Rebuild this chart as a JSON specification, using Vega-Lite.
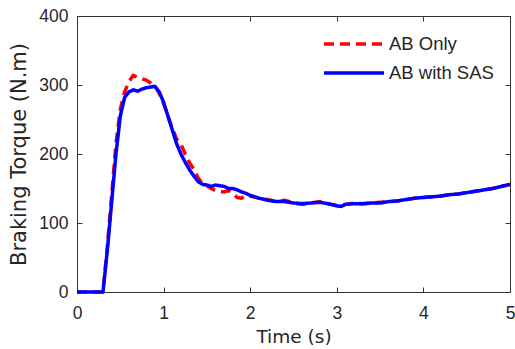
{
  "$schema": "https://vega.github.io/schema/vega-lite/v6.json",
  "width": 433,
  "height": 276,
  "autosize": {"type": "none"},
  "padding": {"left": 77, "top": 16, "right": 5, "bottom": 57},
  "background": "white",
  "config": {
    "view": {"stroke": "#333333", "strokeWidth": 1},
    "font": "Liberation Sans",
    "axis": {
      "grid": false,
      "domain": false,
      "tickColor": "#333333",
      "tickSize": -5,
      "labelFont": "Liberation Sans",
      "labelFontSize": 17.5,
      "labelColor": "#262626",
      "titleFont": "DejaVu Sans",
      "titleFontWeight": "normal",
      "titleColor": "#262626"
    }
  },
  "data": {
    "values": [
      {"t": 0, "v": 0, "s": "AB Only"},
      {"t": 0.3, "v": 0, "s": "AB Only"},
      {"t": 0.35, "v": 65, "s": "AB Only"},
      {"t": 0.4, "v": 140, "s": "AB Only"},
      {"t": 0.45, "v": 215, "s": "AB Only"},
      {"t": 0.5, "v": 265, "s": "AB Only"},
      {"t": 0.55, "v": 290, "s": "AB Only"},
      {"t": 0.6, "v": 305, "s": "AB Only"},
      {"t": 0.65, "v": 314, "s": "AB Only"},
      {"t": 0.7, "v": 311, "s": "AB Only"},
      {"t": 0.75, "v": 309, "s": "AB Only"},
      {"t": 0.8, "v": 307, "s": "AB Only"},
      {"t": 0.85, "v": 303, "s": "AB Only"},
      {"t": 0.9, "v": 298, "s": "AB Only"},
      {"t": 0.95, "v": 288, "s": "AB Only"},
      {"t": 1.0, "v": 273, "s": "AB Only"},
      {"t": 1.05, "v": 255, "s": "AB Only"},
      {"t": 1.1, "v": 237, "s": "AB Only"},
      {"t": 1.15, "v": 222, "s": "AB Only"},
      {"t": 1.2, "v": 214, "s": "AB Only"},
      {"t": 1.25, "v": 200, "s": "AB Only"},
      {"t": 1.3, "v": 187, "s": "AB Only"},
      {"t": 1.35, "v": 178, "s": "AB Only"},
      {"t": 1.4, "v": 165, "s": "AB Only"},
      {"t": 1.45, "v": 157, "s": "AB Only"},
      {"t": 1.5, "v": 154, "s": "AB Only"},
      {"t": 1.55, "v": 150, "s": "AB Only"},
      {"t": 1.6, "v": 147, "s": "AB Only"},
      {"t": 1.65, "v": 146, "s": "AB Only"},
      {"t": 1.7, "v": 145, "s": "AB Only"},
      {"t": 1.75, "v": 147, "s": "AB Only"},
      {"t": 1.8, "v": 143, "s": "AB Only"},
      {"t": 1.85, "v": 137, "s": "AB Only"},
      {"t": 1.9, "v": 136, "s": "AB Only"},
      {"t": 1.95, "v": 140, "s": "AB Only"},
      {"t": 2.0, "v": 139, "s": "AB Only"},
      {"t": 2.1, "v": 136, "s": "AB Only"},
      {"t": 2.2, "v": 134, "s": "AB Only"},
      {"t": 2.3, "v": 131, "s": "AB Only"},
      {"t": 2.4, "v": 133, "s": "AB Only"},
      {"t": 2.5, "v": 129, "s": "AB Only"},
      {"t": 2.6, "v": 127, "s": "AB Only"},
      {"t": 2.7, "v": 129, "s": "AB Only"},
      {"t": 2.8, "v": 131, "s": "AB Only"},
      {"t": 2.9, "v": 128, "s": "AB Only"},
      {"t": 3.0, "v": 125, "s": "AB Only"},
      {"t": 3.1, "v": 127, "s": "AB Only"},
      {"t": 3.2, "v": 129, "s": "AB Only"},
      {"t": 3.3, "v": 128, "s": "AB Only"},
      {"t": 3.4, "v": 129, "s": "AB Only"},
      {"t": 3.5, "v": 130, "s": "AB Only"},
      {"t": 3.6, "v": 131, "s": "AB Only"},
      {"t": 3.7, "v": 132, "s": "AB Only"},
      {"t": 3.8, "v": 134, "s": "AB Only"},
      {"t": 3.9, "v": 136, "s": "AB Only"},
      {"t": 4.0, "v": 137, "s": "AB Only"},
      {"t": 4.1, "v": 138, "s": "AB Only"},
      {"t": 4.2, "v": 139, "s": "AB Only"},
      {"t": 4.3, "v": 141, "s": "AB Only"},
      {"t": 4.4, "v": 142, "s": "AB Only"},
      {"t": 4.5, "v": 144, "s": "AB Only"},
      {"t": 4.6, "v": 146, "s": "AB Only"},
      {"t": 4.7, "v": 148, "s": "AB Only"},
      {"t": 4.8, "v": 150, "s": "AB Only"},
      {"t": 4.9, "v": 153, "s": "AB Only"},
      {"t": 5.0, "v": 156, "s": "AB Only"},
      {"t": 0, "v": 0, "s": "AB with SAS"},
      {"t": 0.3, "v": 0, "s": "AB with SAS"},
      {"t": 0.35, "v": 60, "s": "AB with SAS"},
      {"t": 0.4, "v": 130, "s": "AB with SAS"},
      {"t": 0.45, "v": 200, "s": "AB with SAS"},
      {"t": 0.5, "v": 255, "s": "AB with SAS"},
      {"t": 0.55, "v": 282, "s": "AB with SAS"},
      {"t": 0.6, "v": 290, "s": "AB with SAS"},
      {"t": 0.65, "v": 293, "s": "AB with SAS"},
      {"t": 0.7, "v": 291, "s": "AB with SAS"},
      {"t": 0.75, "v": 294, "s": "AB with SAS"},
      {"t": 0.8, "v": 296, "s": "AB with SAS"},
      {"t": 0.85, "v": 297, "s": "AB with SAS"},
      {"t": 0.9, "v": 298, "s": "AB with SAS"},
      {"t": 0.95, "v": 290, "s": "AB with SAS"},
      {"t": 1.0, "v": 275, "s": "AB with SAS"},
      {"t": 1.05, "v": 255, "s": "AB with SAS"},
      {"t": 1.1, "v": 235, "s": "AB with SAS"},
      {"t": 1.15, "v": 215, "s": "AB with SAS"},
      {"t": 1.2, "v": 200, "s": "AB with SAS"},
      {"t": 1.25, "v": 188, "s": "AB with SAS"},
      {"t": 1.3, "v": 177, "s": "AB with SAS"},
      {"t": 1.35, "v": 168, "s": "AB with SAS"},
      {"t": 1.4, "v": 160, "s": "AB with SAS"},
      {"t": 1.45, "v": 156, "s": "AB with SAS"},
      {"t": 1.5, "v": 155, "s": "AB with SAS"},
      {"t": 1.55, "v": 153, "s": "AB with SAS"},
      {"t": 1.6, "v": 155, "s": "AB with SAS"},
      {"t": 1.65, "v": 154, "s": "AB with SAS"},
      {"t": 1.7, "v": 153, "s": "AB with SAS"},
      {"t": 1.75, "v": 150, "s": "AB with SAS"},
      {"t": 1.8, "v": 150, "s": "AB with SAS"},
      {"t": 1.85, "v": 148, "s": "AB with SAS"},
      {"t": 1.9, "v": 145, "s": "AB with SAS"},
      {"t": 1.95, "v": 143, "s": "AB with SAS"},
      {"t": 2.0, "v": 140, "s": "AB with SAS"},
      {"t": 2.1, "v": 136, "s": "AB with SAS"},
      {"t": 2.2, "v": 133, "s": "AB with SAS"},
      {"t": 2.3, "v": 131, "s": "AB with SAS"},
      {"t": 2.4, "v": 131, "s": "AB with SAS"},
      {"t": 2.5, "v": 129, "s": "AB with SAS"},
      {"t": 2.6, "v": 128, "s": "AB with SAS"},
      {"t": 2.7, "v": 129, "s": "AB with SAS"},
      {"t": 2.8, "v": 130, "s": "AB with SAS"},
      {"t": 2.9, "v": 128, "s": "AB with SAS"},
      {"t": 3.0, "v": 125, "s": "AB with SAS"},
      {"t": 3.05, "v": 124, "s": "AB with SAS"},
      {"t": 3.1, "v": 127, "s": "AB with SAS"},
      {"t": 3.2, "v": 128, "s": "AB with SAS"},
      {"t": 3.3, "v": 128, "s": "AB with SAS"},
      {"t": 3.4, "v": 129, "s": "AB with SAS"},
      {"t": 3.5, "v": 129, "s": "AB with SAS"},
      {"t": 3.6, "v": 131, "s": "AB with SAS"},
      {"t": 3.7, "v": 132, "s": "AB with SAS"},
      {"t": 3.8, "v": 134, "s": "AB with SAS"},
      {"t": 3.9, "v": 136, "s": "AB with SAS"},
      {"t": 4.0, "v": 137, "s": "AB with SAS"},
      {"t": 4.1, "v": 138, "s": "AB with SAS"},
      {"t": 4.2, "v": 139, "s": "AB with SAS"},
      {"t": 4.3, "v": 141, "s": "AB with SAS"},
      {"t": 4.4, "v": 142, "s": "AB with SAS"},
      {"t": 4.5, "v": 144, "s": "AB with SAS"},
      {"t": 4.6, "v": 146, "s": "AB with SAS"},
      {"t": 4.7, "v": 148, "s": "AB with SAS"},
      {"t": 4.8, "v": 150, "s": "AB with SAS"},
      {"t": 4.9, "v": 153, "s": "AB with SAS"},
      {"t": 5.0, "v": 156, "s": "AB with SAS"}
    ]
  },
  "layer": [
    {
      "mark": {"type": "line", "strokeWidth": 3.5, "strokeCap": "butt", "strokeJoin": "round"},
      "encoding": {
        "x": {
          "field": "t", "type": "quantitative",
          "scale": {"domain": [0, 5], "nice": false},
          "axis": {"orient": "bottom", "values": [0, 1, 2, 3, 4, 5], "title": "Time (s)", "titleFontSize": 18.5, "labelPadding": 17, "titlePadding": 6, "labelFlush": false}
        },
        "y": {
          "field": "v", "type": "quantitative",
          "scale": {"domain": [0, 400], "nice": false},
          "axis": {"orient": "left", "values": [0, 100, 200, 300, 400], "title": "Braking Torque (N.m)", "titleFontSize": 21, "labelPadding": 14, "titlePadding": 9}
        },
        "color": {
          "field": "s", "type": "nominal",
          "scale": {"domain": ["AB Only", "AB with SAS"], "range": ["#ff0000", "#0000ff"]},
          "legend": {
            "title": null, "orient": "none", "legendX": 245, "legendY": 18,
            "symbolType": "stroke", "symbolSize": 3600, "symbolStrokeWidth": 3.5,
            "clipHeight": 20,
            "labelFontSize": 18.5, "labelColor": "#262626", "labelFont": "Liberation Sans",
            "labelOffset": 3, "rowPadding": 9
          }
        },
        "strokeDash": {
          "field": "s", "type": "nominal",
          "scale": {"domain": ["AB Only", "AB with SAS"], "range": [[10, 6], [1, 0]]},
          "legend": null
        }
      }
    },
    {
      "mark": {"type": "point", "opacity": 0},
      "encoding": {
        "x": {"field": "t", "type": "quantitative", "axis": {"orient": "top", "values": [0, 1, 2, 3, 4, 5], "labels": false, "title": null}},
        "y": {"field": "v", "type": "quantitative", "axis": {"orient": "right", "values": [0, 100, 200, 300, 400], "labels": false, "title": null}}
      }
    }
  ],
  "resolve": {"axis": {"x": "independent", "y": "independent"}}
}
